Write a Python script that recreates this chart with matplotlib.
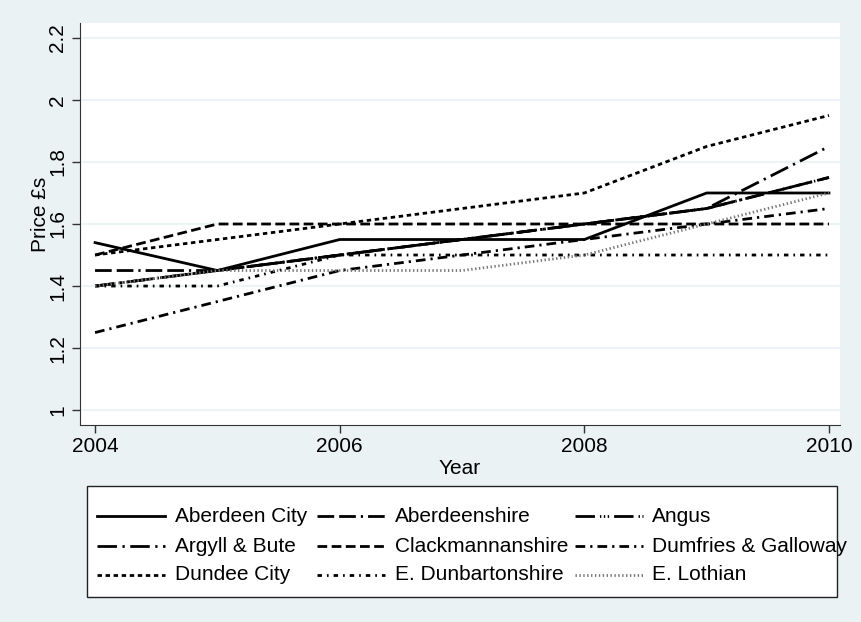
import matplotlib
matplotlib.use("Agg")
import matplotlib.pyplot as plt
from matplotlib.lines import Line2D

plt.rcParams['font.family'] = ['Liberation Sans', 'DejaVu Sans']

# data
years = [2004, 2005, 2006, 2007, 2008, 2009, 2010]
aberdeen_city = [1.54, 1.45, 1.55, 1.55, 1.55, 1.70, 1.70]
aberdeenshire = [1.45, 1.45, 1.50, 1.55, 1.60, 1.65, 1.75]
angus = [1.40, 1.45, 1.50, 1.55, 1.60, 1.65, 1.75]
argyll_bute = [1.40, 1.45, 1.50, 1.55, 1.60, 1.65, 1.85]
clackmannanshire = [1.50, 1.60, 1.60, 1.60, 1.60, 1.60, 1.60]
dumfries_galloway = [1.25, 1.35, 1.45, 1.50, 1.55, 1.60, 1.65]
dundee_city = [1.50, 1.55, 1.60, 1.65, 1.70, 1.85, 1.95]
e_dunbartonshire = [1.40, 1.40, 1.50, 1.50, 1.50, 1.50, 1.50]
e_lothian = [1.40, 1.45, 1.45, 1.45, 1.50, 1.60, 1.70]

names = ["Aberdeen City", "Aberdeenshire", "Angus",
         "Argyll & Bute", "Clackmannanshire", "Dumfries & Galloway",
         "Dundee City", "E. Dunbartonshire", "E. Lothian"]
series = [aberdeen_city, aberdeenshire, angus,
          argyll_bute, clackmannanshire, dumfries_galloway,
          dundee_city, e_dunbartonshire, e_lothian]

xticks = [2004, 2006, 2008, 2010]
yticks = [1, 1.2, 1.4, 1.6, 1.8, 2, 2.2]
ytick_labels = ["1", "1.2", "1.4", "1.6", "1.8", "2", "2.2"]

# stata-ish line patterns
styles = [
    dict(ls="-", color="black"),
    dict(ls=(0, (6, 1.8, 6, 1.8, 0.8, 1.8)), color="black"),
    dict(ls=(0, (7, 1.8, 0.5, 0.9, 0.5, 0.9, 0.5, 1.8)), color="black"),
    dict(ls=(0, (7, 2, 0.8, 2)), color="black"),
    dict(ls=(0, (3.5, 1.6)), color="black"),
    dict(ls=(0, (3.5, 1.8, 0.8, 1.8)), color="black"),
    dict(ls=(0, (1.6, 1.3)), color="black"),
    dict(ls=(0, (1.6, 1.8, 0.6, 1.8)), color="black"),
    dict(ls=(0, (0.5, 0.9)), color="#777777"),
]

bg = "#EAF2F3"
fs = 15
W, H = 861, 622
fig = plt.figure(figsize=(W / 100, H / 100), dpi=100, facecolor=bg)
ax = fig.add_axes([80 / W, (H - 425) / H, 760 / W, 402 / H])
ax.set_facecolor("white")

for vals, st in zip(series, styles):
    ax.plot(years, vals, lw=2, **st)

ax.set_xlim(2003.877, 2010.09)
ax.set_ylim(0.952, 2.248)
ax.set_xticks(xticks)
ax.set_xticklabels([str(x) for x in xticks], fontsize=fs)
ax.set_yticks(yticks)
ax.set_yticklabels(ytick_labels, fontsize=fs, rotation=90, va="center")
ax.grid(axis="y", color=bg, lw=1.2)
ax.set_axisbelow(True)
ax.tick_params(direction="out", length=6, color="#333333", width=1, pad=3)
for s in ["top", "right"]:
    ax.spines[s].set_visible(False)
for s in ["left", "bottom"]:
    ax.spines[s].set_color("#333333")
ax.set_xlabel("Year", fontsize=fs)
ax.xaxis.set_label_coords(0.5, -0.085)
ax.set_ylabel("Price £s", fontsize=fs)
# the original label sits on top of the tick labels
ax.yaxis.set_label_coords(-0.039, 0.525)

# legend drawn by hand so the text can run past the box like the original
box = plt.Rectangle((87 / W, 1 - 597 / H), 750 / W, 111 / H,
                    transform=fig.transFigure, facecolor="white",
                    edgecolor="#222222", lw=1)
fig.add_artist(box)
hx = [97, 317, 575]
tx = [175, 395, 652]
rows = [516, 546, 575]
for i, (name, st) in enumerate(zip(names, styles)):
    r, c = i // 3, i % 3
    y = 1 - rows[r] / H
    fig.add_artist(Line2D([hx[c] / W, (hx[c] + 68) / W], [y, y],
                          transform=fig.transFigure, lw=2, **st))
    fig.text(tx[c] / W, y, name, fontsize=fs, va="center", ha="left")

fig.savefig("out.png", dpi=100, facecolor=bg)
